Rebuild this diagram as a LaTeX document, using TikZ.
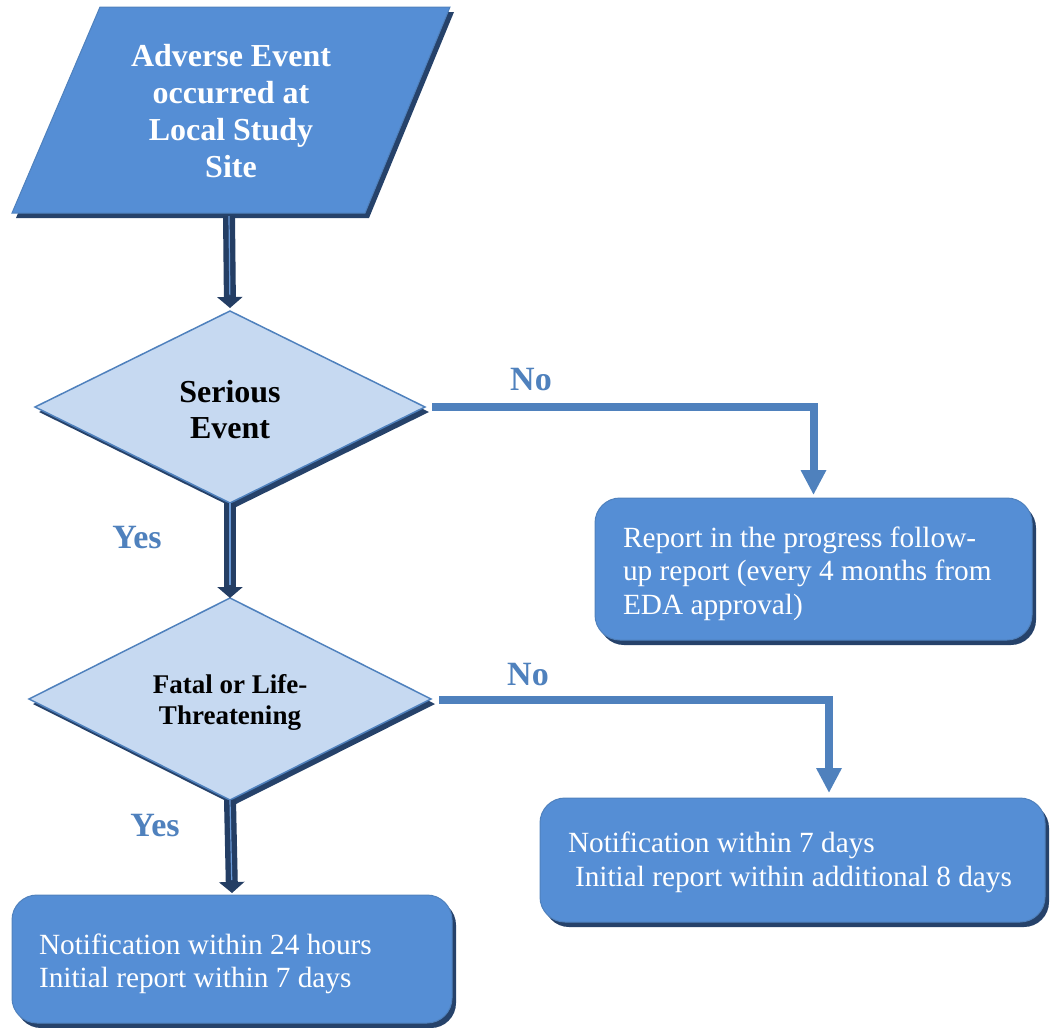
\documentclass[tikz,border=0pt]{standalone}
\usepackage{fontspec}
\setmainfont{Liberation Serif}
\usetikzlibrary{shapes.geometric,arrows.meta,shadows,calc}
\definecolor{boxfill}{HTML}{558ED5}
\definecolor{boxedge}{HTML}{4F81BD}
\definecolor{shadowc}{HTML}{26426A}
\definecolor{dfill}{HTML}{C6D9F1}
\definecolor{navyc}{HTML}{243E64}
\definecolor{stripec}{HTML}{6A9AD8}
\definecolor{bluec}{HTML}{4F81BD}
\begin{document}
\begin{tikzpicture}[x=1pt,y=-1pt,
  shad/.style={drop shadow={shadow xshift=4pt,shadow yshift=-5pt,fill=shadowc,opacity=1}},
  decision/.style={diamond,aspect=2,shad,fill=dfill,draw=bluec,line width=1.5pt,inner sep=0pt,outer sep=0pt,align=center,text=black},
  outbox/.style={rectangle,rounded corners=25pt,shad,fill=boxfill,draw=boxedge,line width=1pt,inner sep=0pt,outer sep=0pt,align=flush left,text=white,font=\fontsize{29.3}{33.5}\selectfont},
  navyarrow/.style={draw=navyc,line width=12pt,-{Triangle[width=25pt,length=11pt]}},
  stripe/.style={draw=stripec,line width=1.2pt,shorten >=13pt},
  bluearrow/.style={draw=bluec,line width=8pt,line join=miter,-{Triangle[width=24pt,length=25pt]}},
  lbl/.style={text=bluec,font=\fontsize{34}{37}\selectfont\bfseries,inner sep=0pt}
]
\useasboundingbox (0,0) rectangle (1053,1028);
% start parallelogram
\fill[shadowc] (104,12) -- (454,12) -- (369,218) -- (16,218) -- cycle;
\fill[boxfill,draw=boxedge,line width=1pt] (100,7) -- (450,7) -- (365,213) -- (12,213) -- cycle;
\node[text=white,align=center,inner sep=0pt,font=\fontsize{32}{37}\selectfont\bfseries] (start) at (231,111) {Adverse Event\\occurred at\\Local Study\\Site};
\coordinate (startbot) at (229,216);
% decisions
\node[decision,minimum width=390pt,minimum height=192pt,font=\fontsize{32}{36}\selectfont\bfseries] (d1) at (230,407) {\rule{0pt}{27pt}Serious\\Event};
\node[decision,minimum width=402pt,minimum height=202pt,font=\fontsize{27}{31}\selectfont\bfseries] (d2) at (230,699) {\rule{0pt}{25pt}Fatal or Life-\\Threatening};
% outcome boxes
\node[outbox,minimum width=437pt,minimum height=142pt,text width=381pt] (b1) at (813.5,569) {\rule{0pt}{30pt}Report in the progress follow-\\up report (every 4 months from\\EDA approval)};
\node[outbox,minimum width=505pt,minimum height=124pt,text width=449pt,font=\fontsize{29.3}{34}\selectfont] (b2) at (792.5,860) {\rule{0pt}{26pt}Notification within 7 days\\\hspace*{7pt}Initial report within additional 8 days};
\node[outbox,minimum width=440pt,minimum height=128pt,text width=386pt] (b3) at (232,959) {\rule{0pt}{30pt}Notification within 24 hours\\Initial report within 7 days};
% navy arrows
\draw[navyarrow] (startbot) -- ([yshift=3pt]d1.north);
\draw[stripe] (startbot) -- ([yshift=3pt]d1.north);
\draw[navyarrow] (d1.south) -- (d2.north);
\draw[stripe] (d1.south) -- (d2.north);
\draw[navyarrow] (d2.south) -- ([yshift=2pt]b3.north);
\draw[stripe] (d2.south) -- ([yshift=2pt]b3.north);
% blue arrows
\draw[bluearrow] ([xshift=7pt]d1.east) -| ([yshift=3pt]b1.north);
\draw[bluearrow] ([xshift=8pt,yshift=-1pt]d2.east) -| ([xshift=36.5pt,yshift=5pt]b2.north);
% labels
\node[lbl] (no1) at (531,380) {No};
\node[lbl] (no2) at (528,675) {No};
\node[lbl] (yes1) at (137,538) {Yes};
\node[lbl] (yes2) at (155,826) {Yes};
\end{tikzpicture}
\end{document}
